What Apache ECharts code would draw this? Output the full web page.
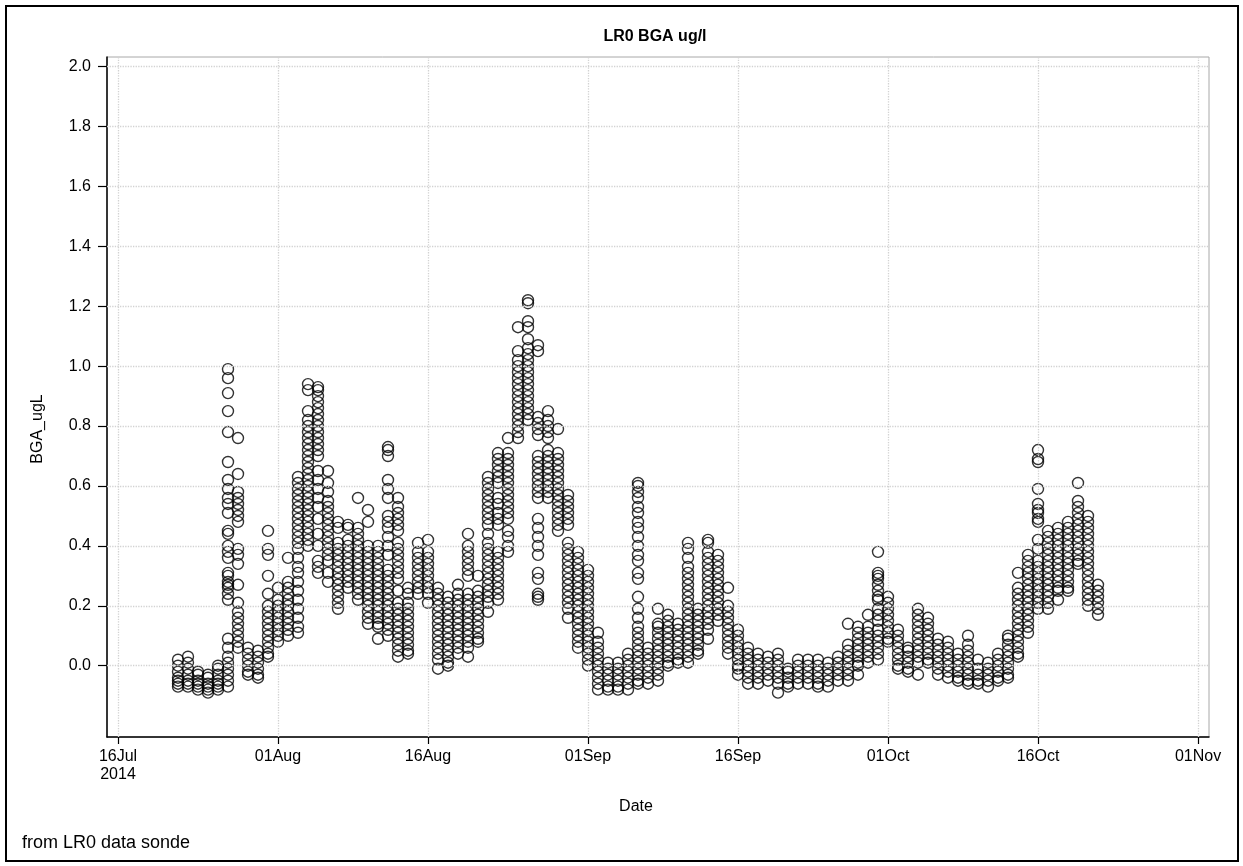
<!DOCTYPE html>
<html>
<head>
<meta charset="utf-8">
<script src="https://cdn.jsdelivr.net/npm/echarts@6/dist/echarts.min.js"></script>
<style>
html,body{margin:0;padding:0;background:#fff;}
#chart{width:1243px;height:866px;}
</style>
</head>
<body>
<div id="chart"></div>
<script>
// ---- DATA (one inner array per day: BGA_ugL readings) ----
const julyStartDay = 22;
const julyReadings = [
  [0.02,0.00,-0.02,-0.04,-0.05,-0.06,-0.07],
  [0.03,0.01,-0.01,-0.03,-0.05,-0.06,-0.07],
  [-0.02,-0.03,-0.05,-0.06,-0.07,-0.08],
  [-0.03,-0.04,-0.06,-0.07,-0.08,-0.09],
  [0.00,-0.01,-0.03,-0.05,-0.06,-0.07,-0.08],
  [0.99,0.96,0.91,0.85,0.78,0.68,0.62,0.59,0.56,0.54,0.51,0.45,0.44,0.40,0.38,0.36,0.31,0.30,0.28,0.27,0.26,0.24,0.22,0.09,0.06,0.03,0.01,-0.01,-0.03,-0.05,-0.07],
  [0.76,0.64,0.58,0.56,0.54,0.52,0.50,0.48,0.39,0.37,0.34,0.27,0.21,0.18,0.16,0.14,0.12,0.10,0.08,0.06],
  [0.06,0.04,0.02,0.00,-0.02,-0.03],
  [0.05,0.03,0.01,-0.01,-0.03,-0.04],
  [0.45,0.39,0.37,0.30,0.24,0.20,0.18,0.16,0.14,0.12,0.10,0.08,0.06,0.04,0.03]
];
const augustStartDay = 1;
const augustReadings = [
  [0.26,0.22,0.20,0.18,0.16,0.14,0.12,0.10,0.08],
  [0.36,0.28,0.26,0.24,0.22,0.20,0.18,0.16,0.14,0.12,0.10],
  [0.63,0.61,0.59,0.57,0.55,0.53,0.51,0.49,0.47,0.45,0.43,0.41,0.39,0.36,0.33,0.31,0.28,0.25,0.22,0.19,0.16,0.13,0.11],
  [0.94,0.92,0.85,0.82,0.80,0.78,0.76,0.74,0.72,0.70,0.68,0.66,0.64,0.62,0.60,0.58,0.56,0.54,0.52,0.50,0.48,0.46,0.44,0.42,0.40],
  [0.93,0.92,0.90,0.88,0.86,0.84,0.82,0.80,0.78,0.76,0.74,0.72,0.70,0.65,0.62,0.59,0.56,0.53,0.49,0.44,0.40,0.35,0.33,0.31],
  [0.65,0.61,0.58,0.55,0.53,0.51,0.49,0.47,0.45,0.43,0.41,0.39,0.37,0.35,0.31,0.28],
  [0.48,0.46,0.41,0.39,0.37,0.35,0.33,0.31,0.29,0.27,0.25,0.23,0.21,0.19],
  [0.47,0.46,0.42,0.40,0.38,0.36,0.34,0.32,0.30,0.28,0.26],
  [0.56,0.46,0.44,0.42,0.40,0.38,0.36,0.34,0.32,0.30,0.28,0.26,0.24,0.22],
  [0.52,0.48,0.40,0.38,0.36,0.34,0.32,0.30,0.28,0.26,0.24,0.22,0.20,0.18,0.16,0.14],
  [0.40,0.38,0.36,0.34,0.32,0.30,0.28,0.26,0.24,0.22,0.20,0.18,0.16,0.14,0.13,0.09],
  [0.73,0.72,0.70,0.62,0.59,0.56,0.50,0.48,0.46,0.43,0.40,0.37,0.32,0.30,0.28,0.26,0.24,0.22,0.20,0.18,0.16,0.14,0.12,0.10],
  [0.56,0.53,0.51,0.49,0.47,0.45,0.41,0.39,0.37,0.35,0.33,0.31,0.29,0.25,0.21,0.19,0.17,0.15,0.13,0.11,0.09,0.07,0.05,0.03],
  [0.26,0.24,0.21,0.19,0.17,0.15,0.13,0.11,0.09,0.07,0.05,0.04],
  [0.41,0.38,0.36,0.34,0.32,0.30,0.28,0.26,0.24],
  [0.42,0.38,0.36,0.34,0.32,0.30,0.28,0.26,0.24,0.21],
  [0.26,0.24,0.22,0.20,0.18,0.16,0.14,0.12,0.10,0.08,0.06,0.04,0.02,-0.01],
  [0.23,0.21,0.19,0.17,0.15,0.13,0.11,0.09,0.07,0.05,0.03,0.01,0.00],
  [0.27,0.24,0.22,0.20,0.18,0.16,0.14,0.12,0.10,0.08,0.06,0.04],
  [0.44,0.40,0.38,0.36,0.34,0.32,0.30,0.24,0.22,0.20,0.18,0.16,0.14,0.12,0.10,0.08,0.06,0.03],
  [0.30,0.25,0.23,0.21,0.19,0.17,0.15,0.13,0.11,0.09,0.08],
  [0.63,0.61,0.59,0.57,0.55,0.53,0.51,0.49,0.47,0.44,0.41,0.39,0.37,0.35,0.33,0.31,0.29,0.27,0.25,0.23,0.21,0.18],
  [0.71,0.69,0.67,0.65,0.63,0.61,0.56,0.54,0.51,0.49,0.47,0.38,0.36,0.34,0.32,0.30,0.28,0.26,0.24,0.22],
  [0.76,0.71,0.69,0.67,0.65,0.63,0.61,0.59,0.57,0.55,0.53,0.51,0.49,0.45,0.43,0.40,0.38],
  [1.13,1.05,1.02,1.00,0.98,0.96,0.94,0.92,0.90,0.88,0.86,0.84,0.82,0.80,0.78,0.76],
  [1.22,1.21,1.15,1.13,1.09,1.06,1.04,1.02,1.00,0.98,0.96,0.94,0.92,0.90,0.88,0.86,0.84,0.82],
  [1.07,1.05,0.83,0.81,0.79,0.77,0.70,0.68,0.66,0.64,0.62,0.60,0.58,0.56,0.49,0.46,0.43,0.40,0.37,0.31,0.29,0.24,0.23,0.22],
  [0.85,0.82,0.80,0.78,0.76,0.72,0.70,0.68,0.66,0.64,0.62,0.60,0.58,0.56],
  [0.79,0.71,0.69,0.67,0.65,0.63,0.61,0.59,0.57,0.55,0.53,0.51,0.49,0.47,0.45],
  [0.57,0.55,0.53,0.51,0.49,0.47,0.41,0.39,0.37,0.35,0.33,0.31,0.29,0.27,0.25,0.23,0.21,0.19,0.16],
  [0.38,0.36,0.34,0.32,0.30,0.28,0.26,0.24,0.22,0.20,0.18,0.16,0.14,0.12,0.10,0.08,0.06]
];
const septemberStartDay = 1;
const septemberReadings = [
  [0.32,0.30,0.28,0.26,0.24,0.22,0.20,0.18,0.16,0.14,0.12,0.10,0.08,0.06,0.04,0.02,0.00],
  [0.11,0.08,0.06,0.04,0.02,0.00,-0.02,-0.04,-0.06,-0.08],
  [0.01,-0.01,-0.03,-0.05,-0.07,-0.08],
  [0.01,-0.01,-0.03,-0.05,-0.07,-0.08],
  [0.04,0.02,0.00,-0.02,-0.04,-0.06,-0.08],
  [0.61,0.60,0.58,0.56,0.53,0.51,0.48,0.46,0.43,0.40,0.37,0.35,0.31,0.29,0.23,0.19,0.16,0.13,0.11,0.09,0.07,0.05,0.03,0.01,-0.01,-0.03,-0.05,-0.06],
  [0.06,0.04,0.02,0.00,-0.02,-0.04,-0.06],
  [0.19,0.14,0.13,0.11,0.09,0.07,0.05,0.03,0.01,-0.01,-0.03,-0.05],
  [0.17,0.15,0.13,0.11,0.09,0.07,0.05,0.03,0.01,0.00],
  [0.14,0.12,0.10,0.08,0.06,0.04,0.02,0.01],
  [0.41,0.39,0.36,0.33,0.31,0.29,0.27,0.25,0.23,0.21,0.19,0.17,0.15,0.13,0.11,0.09,0.07,0.05,0.03,0.01],
  [0.19,0.17,0.15,0.13,0.11,0.09,0.07,0.05,0.04],
  [0.42,0.41,0.38,0.36,0.34,0.32,0.30,0.28,0.26,0.24,0.22,0.20,0.18,0.16,0.14,0.12,0.09],
  [0.37,0.35,0.33,0.31,0.29,0.27,0.25,0.23,0.21,0.19,0.17,0.15],
  [0.26,0.20,0.18,0.16,0.14,0.12,0.10,0.08,0.06,0.04],
  [0.12,0.10,0.08,0.06,0.04,0.02,0.00,-0.01,-0.03],
  [0.06,0.04,0.02,0.00,-0.02,-0.04,-0.06],
  [0.04,0.02,0.00,-0.02,-0.04,-0.06],
  [0.03,0.01,-0.01,-0.03,-0.05],
  [0.04,0.02,0.00,-0.02,-0.04,-0.06,-0.09],
  [-0.01,-0.02,-0.04,-0.06,-0.07],
  [0.02,0.00,-0.02,-0.04,-0.06],
  [0.02,0.00,-0.02,-0.04,-0.06],
  [0.02,0.00,-0.02,-0.04,-0.06,-0.07],
  [0.01,-0.01,-0.03,-0.05,-0.07],
  [0.03,0.01,-0.01,-0.03,-0.05],
  [0.14,0.07,0.05,0.03,0.01,-0.01,-0.03,-0.05],
  [0.13,0.11,0.09,0.07,0.05,0.03,0.01,0.00,-0.03],
  [0.17,0.13,0.11,0.09,0.07,0.05,0.03,0.01],
  [0.38,0.31,0.30,0.29,0.27,0.25,0.23,0.22,0.19,0.17,0.15,0.12,0.10,0.08,0.06,0.04,0.02]
];
const octoberStartDay = 1;
const octoberReadings = [
  [0.23,0.21,0.19,0.17,0.15,0.13,0.11,0.09,0.08],
  [0.12,0.10,0.08,0.06,0.04,0.02,0.00,-0.01],
  [0.06,0.05,0.03,0.01,-0.01,-0.02],
  [0.19,0.17,0.15,0.13,0.11,0.09,0.07,0.05,0.03,0.01,-0.03],
  [0.16,0.14,0.12,0.10,0.08,0.06,0.04,0.02,0.01],
  [0.09,0.07,0.05,0.03,0.01,-0.01,-0.03],
  [0.08,0.06,0.04,0.02,0.00,-0.02,-0.04],
  [0.04,0.02,0.00,-0.02,-0.04,-0.05],
  [0.10,0.07,0.05,0.03,0.01,-0.01,-0.03,-0.05,-0.06],
  [0.02,-0.01,-0.03,-0.05,-0.06],
  [0.01,-0.01,-0.03,-0.05,-0.07],
  [0.04,0.02,0.00,-0.02,-0.04,-0.05],
  [0.10,0.09,0.07,0.05,0.03,0.01,-0.01,-0.03,-0.04],
  [0.31,0.26,0.24,0.22,0.20,0.18,0.16,0.14,0.12,0.10,0.08,0.06,0.04,0.03],
  [0.37,0.35,0.33,0.31,0.29,0.27,0.25,0.23,0.21,0.19,0.17,0.15,0.13,0.11],
  [0.72,0.69,0.68,0.59,0.54,0.52,0.51,0.49,0.48,0.42,0.39,0.35,0.33,0.31,0.29,0.27,0.25,0.23,0.21,0.19],
  [0.45,0.43,0.41,0.39,0.37,0.35,0.33,0.31,0.29,0.27,0.25,0.23,0.21,0.19],
  [0.46,0.44,0.42,0.40,0.38,0.36,0.34,0.32,0.30,0.28,0.26,0.25,0.22],
  [0.48,0.46,0.44,0.42,0.40,0.38,0.36,0.34,0.32,0.30,0.28,0.26,0.25],
  [0.61,0.55,0.53,0.51,0.49,0.47,0.45,0.43,0.41,0.39,0.37,0.35,0.34],
  [0.50,0.48,0.46,0.44,0.42,0.40,0.38,0.36,0.34,0.32,0.30,0.28,0.26,0.24,0.22,0.20],
  [0.27,0.25,0.23,0.21,0.19,0.17]
];
const xTickDates = ['2014-07-16','2014-08-01','2014-08-16','2014-09-01','2014-09-16','2014-10-01','2014-10-16','2014-11-01'];
const xTickLabels = ['16Jul\n2014','01Aug','16Aug','01Sep','16Sep','01Oct','16Oct','01Nov'];
const yTicks = [0.0,0.2,0.4,0.6,0.8,1.0,1.2,1.4,1.6,1.8,2.0];

// ---- build ----
const DAY = 86400000;
function utc(s){ const p = s.split('-').map(Number); return Date.UTC(p[0], p[1]-1, p[2]); }
const points = [];
function addMonth(month, startDay, readings){
  readings.forEach(function(vals, i){
    const t = Date.UTC(2014, month-1, startDay + i);
    vals.forEach(function(v){ points.push([t, v]); });
  });
}
addMonth(7, julyStartDay, julyReadings);
addMonth(8, augustStartDay, augustReadings);
addMonth(9, septemberStartDay, septemberReadings);
addMonth(10, octoberStartDay, octoberReadings);

const xTicks = xTickDates.map(utc);
function xLabel(v){
  for (let i = 0; i < xTicks.length; i++) if (Math.abs(xTicks[i] - v) < DAY/2) return xTickLabels[i];
  return '';
}
const FONT = 'Liberation Sans, Arial, sans-serif';

const chart = echarts.init(document.getElementById('chart'));
chart.setOption({
  animation: false,
  backgroundColor: '#fff',
  textStyle: { fontFamily: FONT, color: '#000' },
  grid: { left: 107, right: 34, top: 57, bottom: 129, show: true, borderColor: '#a8a8a8', borderWidth: 1, backgroundColor: 'transparent' },
  xAxis: {
    type: 'value',
    min: xTicks[0] - 1.1*DAY,
    max: xTicks[xTicks.length-1] + 1.1*DAY,
    name: 'Date', nameLocation: 'middle', nameGap: 62,
    nameTextStyle: { fontSize: 16, color: '#000', fontFamily: FONT, padding: [0, 44, 0, 0] },
    axisLine: { onZero: false, lineStyle: { color: '#000', width: 1.5 } },
    axisTick: { show: true, customValues: xTicks, length: 7, lineStyle: { color: '#000', width: 1.2 } },
    axisLabel: { customValues: xTicks, formatter: xLabel, fontSize: 16, color: '#000', margin: 11, lineHeight: 18, fontFamily: FONT, hideOverlap: false },
    splitLine: { show: false }
  },
  yAxis: {
    type: 'value',
    min: -0.238, max: 2.032,
    name: 'BGA_ugL', nameLocation: 'middle', nameGap: 61,
    nameTextStyle: { fontSize: 16, color: '#000', fontFamily: FONT, padding: [0, 64, 0, 0] },
    axisLine: { show: true, lineStyle: { color: '#000', width: 1.5 } },
    axisTick: { show: true, customValues: yTicks, length: 9, lineStyle: { color: '#000', width: 1.2 } },
    axisLabel: { customValues: yTicks, formatter: function(v){ return v.toFixed(1); }, fontSize: 16, color: '#000', margin: 16, fontFamily: FONT },
    splitLine: { show: false }
  },
  graphic: [
    { type: 'rect', shape: { x: 6, y: 6, width: 1232, height: 855 }, style: { fill: 'none', stroke: '#000', lineWidth: 2 }, silent: true, z: 100 },
    { type: 'text', x: 655, y: 37, style: { text: 'LR0 BGA ug/l', font: 'bold 16px ' + FONT, fill: '#000', textAlign: 'center', textVerticalAlign: 'middle' }, silent: true },
    { type: 'text', x: 22, y: 843, style: { text: 'from LR0 data sonde', font: '18px ' + FONT, fill: '#000', textAlign: 'left', textVerticalAlign: 'middle' }, silent: true }
  ],
  series: [
    {
      type: 'line', data: [], silent: true, z: 1,
      markLine: {
        silent: true, symbol: 'none', animation: false,
        label: { show: false },
        lineStyle: { color: '#d2d2d2', type: 'dotted', width: 1.3 },
        emphasis: { disabled: true },
        data: xTicks.map(function(t){ return { xAxis: t }; }).concat(yTicks.map(function(v){ return { yAxis: v }; }))
      }
    },
    {
      type: 'scatter', z: 3,
      data: points,
      symbol: 'circle', symbolSize: 11,
      itemStyle: { color: 'rgba(0,0,0,0)', borderColor: '#000', borderWidth: 1.4 },
      emphasis: { disabled: true },
      silent: true
    }
  ]
});
</script>
</body>
</html>
